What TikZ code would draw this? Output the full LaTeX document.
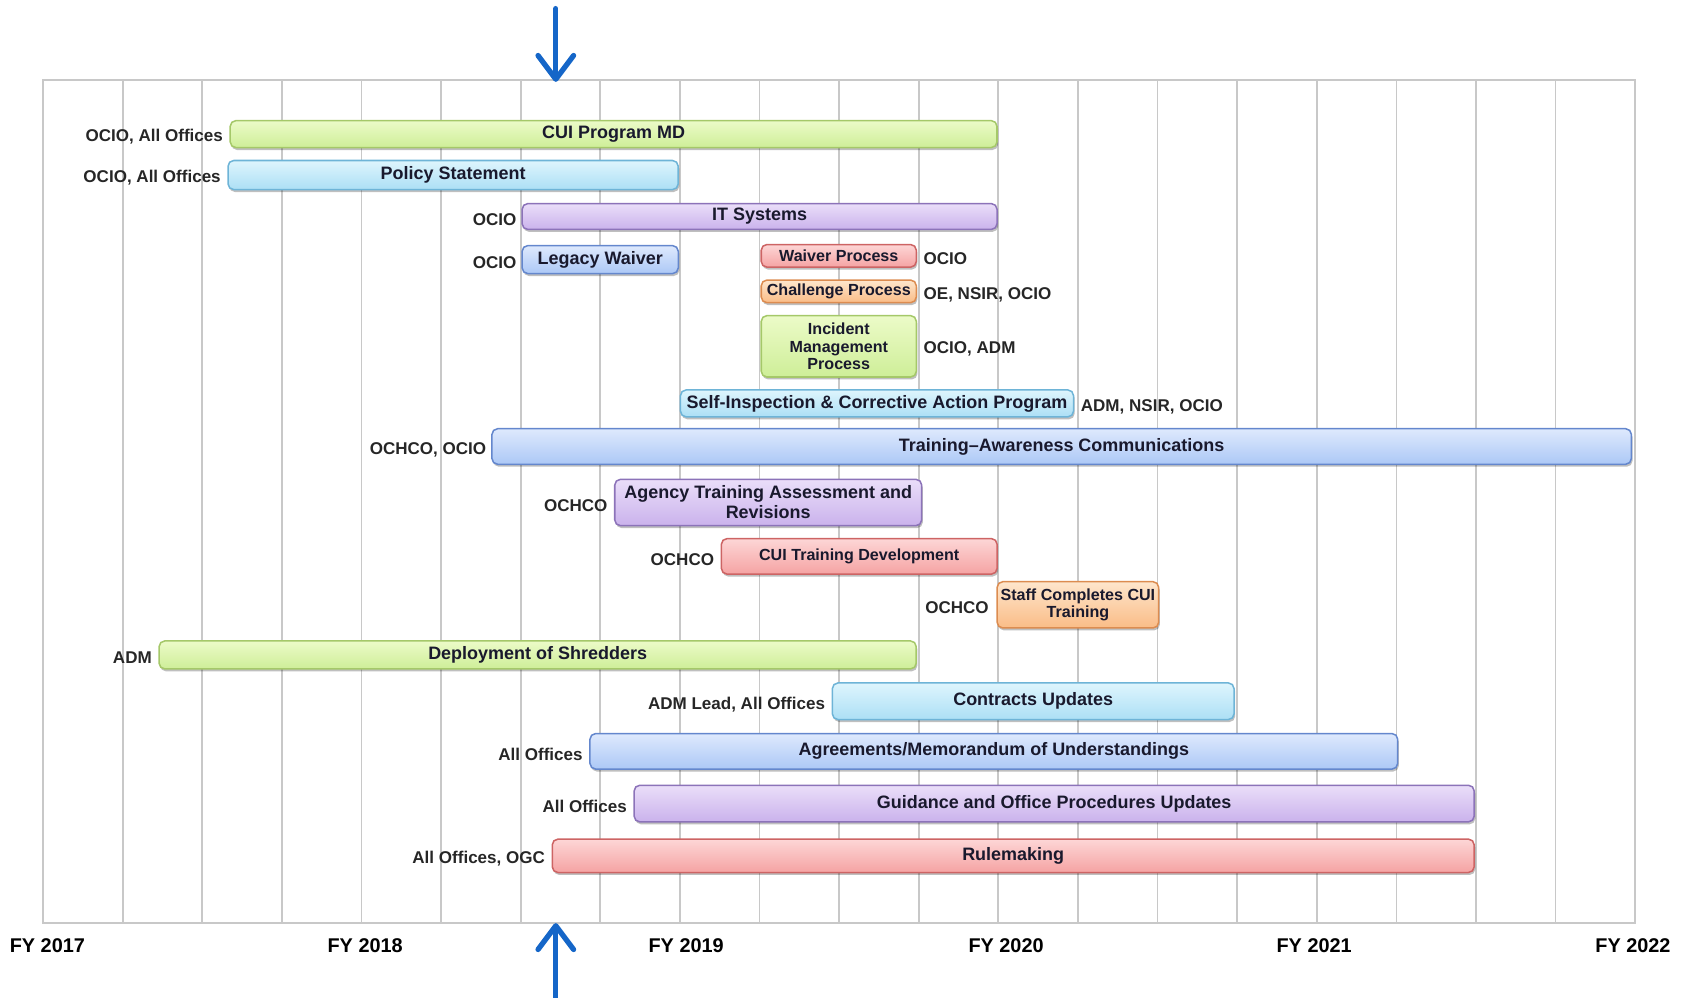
\documentclass[tikz,border=0pt]{standalone}
\usepackage{fontspec}
\setmainfont{Liberation Sans}
\usetikzlibrary{positioning,shadows,arrows.meta}

\definecolor{gridgray}{RGB}{200,200,200}
\definecolor{arrowblue}{RGB}{21,102,200}
\definecolor{bartext}{RGB}{25,25,45}
\definecolor{greentop}{RGB}{236,251,200}
\definecolor{greenbot}{RGB}{206,238,152}
\definecolor{greenline}{RGB}{165,200,105}
\definecolor{cyantop}{RGB}{222,245,253}
\definecolor{cyanbot}{RGB}{172,223,245}
\definecolor{cyanline}{RGB}{110,180,215}
\definecolor{purpletop}{RGB}{234,222,249}
\definecolor{purplebot}{RGB}{202,178,236}
\definecolor{purpleline}{RGB}{140,115,185}
\definecolor{bluetop}{RGB}{222,233,253}
\definecolor{bluebot}{RGB}{172,200,246}
\definecolor{blueline}{RGB}{100,135,205}
\definecolor{redtop}{RGB}{253,214,214}
\definecolor{redbot}{RGB}{245,163,163}
\definecolor{redline}{RGB}{205,100,100}
\definecolor{orangetop}{RGB}{254,230,204}
\definecolor{orangebot}{RGB}{250,188,135}
\definecolor{orangeline}{RGB}{220,140,80}

\begin{document}
\begin{tikzpicture}[x=0.02cm,y=-0.02cm,
    gridline/.style={gridgray, line width=0.9pt},
    bar/.style={draw, rounded corners=3pt, line width=0.8pt, anchor=west, align=center,
        inner sep=0.5pt, text=bartext, font=\bfseries\fontsize{9.5}{10.5}\selectfont,
        drop shadow={shadow xshift=0.6pt, shadow yshift=-1.3pt, fill=black, opacity=0.25}},
    smallbar/.style={bar, font=\bfseries\fontsize{8.5}{9.2}\selectfont},
    greenbar/.style={draw=greenline, top color=greentop, bottom color=greenbot},
    cyanbar/.style={draw=cyanline, top color=cyantop, bottom color=cyanbot},
    purplebar/.style={draw=purpleline, top color=purpletop, bottom color=purplebot},
    bluebar/.style={draw=blueline, top color=bluetop, bottom color=bluebot},
    redbar/.style={draw=redline, top color=redtop, bottom color=redbot},
    orangebar/.style={draw=orangeline, top color=orangetop, bottom color=orangebot},
    owner/.style={inner sep=1pt, yshift=-1.6pt, text=black!85, font=\bfseries\fontsize{9}{10}\selectfont},
    year/.style={inner sep=1pt, font=\bfseries\fontsize{10.5}{12}\selectfont},
    marker/.style={arrowblue, line width=2.8pt, line cap=round,
        -{Straight Barb[length=4.4mm, width=6.6mm, line width=2.8pt, round]}}]
    \useasboundingbox (0,0) rectangle (1568,926);

    \draw[gridline] (40,74) rectangle (1518,857);
    \foreach \i in {1,...,19}
        \draw[gridline] ({40+\i*73.9},74) -- ({40+\i*73.9},857);

    \node[year] (fy2017) at (44,878) {FY 2017};
    \node[year] (fy2018) at (339,878) {FY 2018};
    \node[year] (fy2019) at (637,878) {FY 2019};
    \node[year] (fy2020) at (934,878) {FY 2020};
    \node[year] (fy2021) at (1220,878) {FY 2021};
    \node[year] (fy2022) at (1516,878) {FY 2022};

    \node[bar, greenbar, minimum width=14.24cm, minimum height=0.5cm] (cuimd) at (213,124.5) {CUI Program MD};
    \node[owner, left=0.08cm of cuimd] (cuimdown) {OCIO, All Offices};
    \node[bar, cyanbar, minimum width=8.36cm, minimum height=0.54cm] (policy) at (211,162.5) {Policy Statement};
    \node[owner, left=0.08cm of policy] (policyown) {OCIO, All Offices};
    \node[bar, purplebar, minimum width=8.82cm, minimum height=0.48cm] (itsys) at (484,201) {IT Systems};
    \node[owner, left=0.05cm of itsys] (itsysown) {OCIO};
    \node[bar, bluebar, minimum width=2.9cm, minimum height=0.52cm] (legacy) at (484,241) {Legacy Waiver};
    \node[owner, left=0.05cm of legacy] (legacyown) {OCIO};
    \node[smallbar, redbar, minimum width=2.88cm, minimum height=0.42cm] (waiver) at (706,237.5) {Waiver Process};
    \node[owner, right=0.08cm of waiver] (waiverown) {OCIO};
    \node[smallbar, orangebar, minimum width=2.88cm, minimum height=0.42cm] (challenge) at (706,270.5) {Challenge Process};
    \node[owner, right=0.08cm of challenge] (challengeown) {OE, NSIR, OCIO};
    \node[smallbar, greenbar, minimum width=2.88cm, minimum height=1.14cm] (incident) at (706,321.5) {Incident\\Management\\Process};
    \node[owner, right=0.08cm of incident] (incidentown) {OCIO, ADM};
    \node[bar, cyanbar, minimum width=7.3cm, minimum height=0.5cm] (selfinsp) at (631,374.5) {Self-Inspection \& Corrective Action Program};
    \node[owner, right=0.08cm of selfinsp] (selfinspown) {ADM, NSIR, OCIO};
    \node[bar, bluebar, minimum width=21.16cm, minimum height=0.66cm] (training) at (456,414.5) {Training--Awareness Communications};
    \node[owner, left=0.05cm of training] (trainingown) {OCHCO, OCIO};
    \node[bar, purplebar, minimum width=5.7cm, minimum height=0.86cm] (agency) at (570,466.5) {Agency Training Assessment and\\Revisions};
    \node[owner, left=0.08cm of agency] (agencyown) {OCHCO};
    \node[smallbar, redbar, minimum width=5.12cm, minimum height=0.66cm] (cuitrain) at (669,516.5) {CUI Training Development};
    \node[owner, left=0.08cm of cuitrain] (cuitrainown) {OCHCO};
    \node[smallbar, orangebar, minimum width=3cm, minimum height=0.86cm] (staff) at (925,561.5) {Staff Completes CUI\\Training};
    \node[owner, left=0.1cm of staff] (staffown) {OCHCO};
    \node[bar, greenbar, minimum width=14.06cm, minimum height=0.52cm] (shredders) at (147,608) {Deployment of Shredders};
    \node[owner, left=0.08cm of shredders] (shreddersown) {ADM};
    \node[bar, cyanbar, minimum width=7.46cm, minimum height=0.68cm] (contracts) at (772,651) {Contracts Updates};
    \node[owner, left=0.08cm of contracts] (contractsown) {ADM Lead, All Offices};
    \node[bar, bluebar, minimum width=15cm, minimum height=0.66cm] (agreements) at (547,697.5) {Agreements/Memorandum of Understandings};
    \node[owner, left=0.08cm of agreements] (agreementsown) {All Offices};
    \node[bar, purplebar, minimum width=15.6cm, minimum height=0.68cm] (guidance) at (588,746) {Guidance and Office Procedures Updates};
    \node[owner, left=0.08cm of guidance] (guidanceown) {All Offices};
    \node[bar, redbar, minimum width=17.12cm, minimum height=0.62cm] (rulemaking) at (512,794.5) {Rulemaking};
    \node[owner, left=0.08cm of rulemaking] (rulemakingown) {All Offices, OGC};

    \coordinate (toptail) at (516,8);
    \coordinate (toptip) at (516,76);
    \coordinate (bottail) at (516,926);
    \coordinate (bottip) at (516,857);
    \draw[marker] (toptail) -- (toptip);
    \draw[marker] (bottail) -- (bottip);
\end{tikzpicture}
\end{document}
